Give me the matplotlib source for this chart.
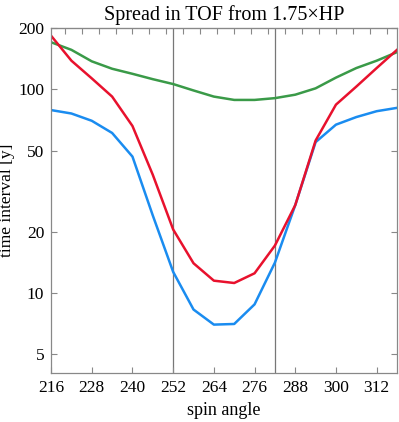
import numpy as np
import matplotlib
matplotlib.use('Agg')
import matplotlib.pyplot as plt

# spin angle samples, every 6 degrees
angle = [216, 222, 228, 234, 240, 246, 252, 258, 264, 270,
         276, 282, 288, 294, 300, 306, 312, 318]

# time intervals [y]
red = [183, 138, 113, 92, 66, 38, 20.5, 14, 11.5, 11.2,
       12.5, 17.1, 27, 56, 84, 103, 127, 156]
blue = [79, 76, 70, 61, 46.7, 24, 12.7, 8.3, 7.0, 7.05,
        8.8, 14.1, 27, 55, 67, 73, 78, 81]
green = [170, 156, 137, 126, 119, 112, 106, 98.6, 92, 88.6,
         88.6, 90.4, 94, 101, 114, 127, 138, 152]

vlines = [252, 282]
xticks = [216, 228, 240, 252, 264, 276, 288, 300, 312]
yticks = [5, 10, 20, 50, 100, 200]

plt.rcParams['font.family'] = ['Liberation Serif', 'DejaVu Serif']
plt.rcParams['font.size'] = 12

fig = plt.figure(figsize=(3.99, 4.22), dpi=100)
ax = fig.add_axes([0.128, 0.116, 0.867, 0.818])

spine_col = '#888888'
for v in vlines:
    ax.axvline(v, color='#777777', lw=0.9, zorder=1)

ax.plot(angle, green, color='#3a9a48', lw=1.8)
ax.plot(angle, blue, color='#1a8cf0', lw=1.8)
ax.plot(angle, red, color='#e8112d', lw=1.8)

ax.set_yscale('log')
ax.set_xlim(216, 318)
ax.set_ylim(4.05, 200)
ax.set_xticks(xticks)
ax.set_xticklabels([str(t) for t in xticks])
ax.set_yticks(yticks)
ax.set_yticklabels([str(t) for t in yticks])
ax.yaxis.set_minor_locator(matplotlib.ticker.NullLocator())

ax.tick_params(direction='in', color=spine_col, length=4, width=0.8,
               right=True, labelsize=12.5, pad=5)
for s in ax.spines.values():
    s.set_color(spine_col)
    s.set_linewidth(0.9)

top = ax.secondary_xaxis('top')
top.set_xticks(list(range(220, 320, 5)))
top.set_xticklabels([])
top.tick_params(direction='in', color=spine_col, length=4, width=0.8)
top.spines['top'].set_color(spine_col)

ax.set_title('Spread in TOF from 1.75×HP', fontsize=14.5, pad=6)
ax.set_xlabel('spin angle', fontsize=13, labelpad=4)
ax.set_ylabel('time interval [y]', fontsize=12.5, labelpad=2)

fig.savefig('out.png', dpi=100)
